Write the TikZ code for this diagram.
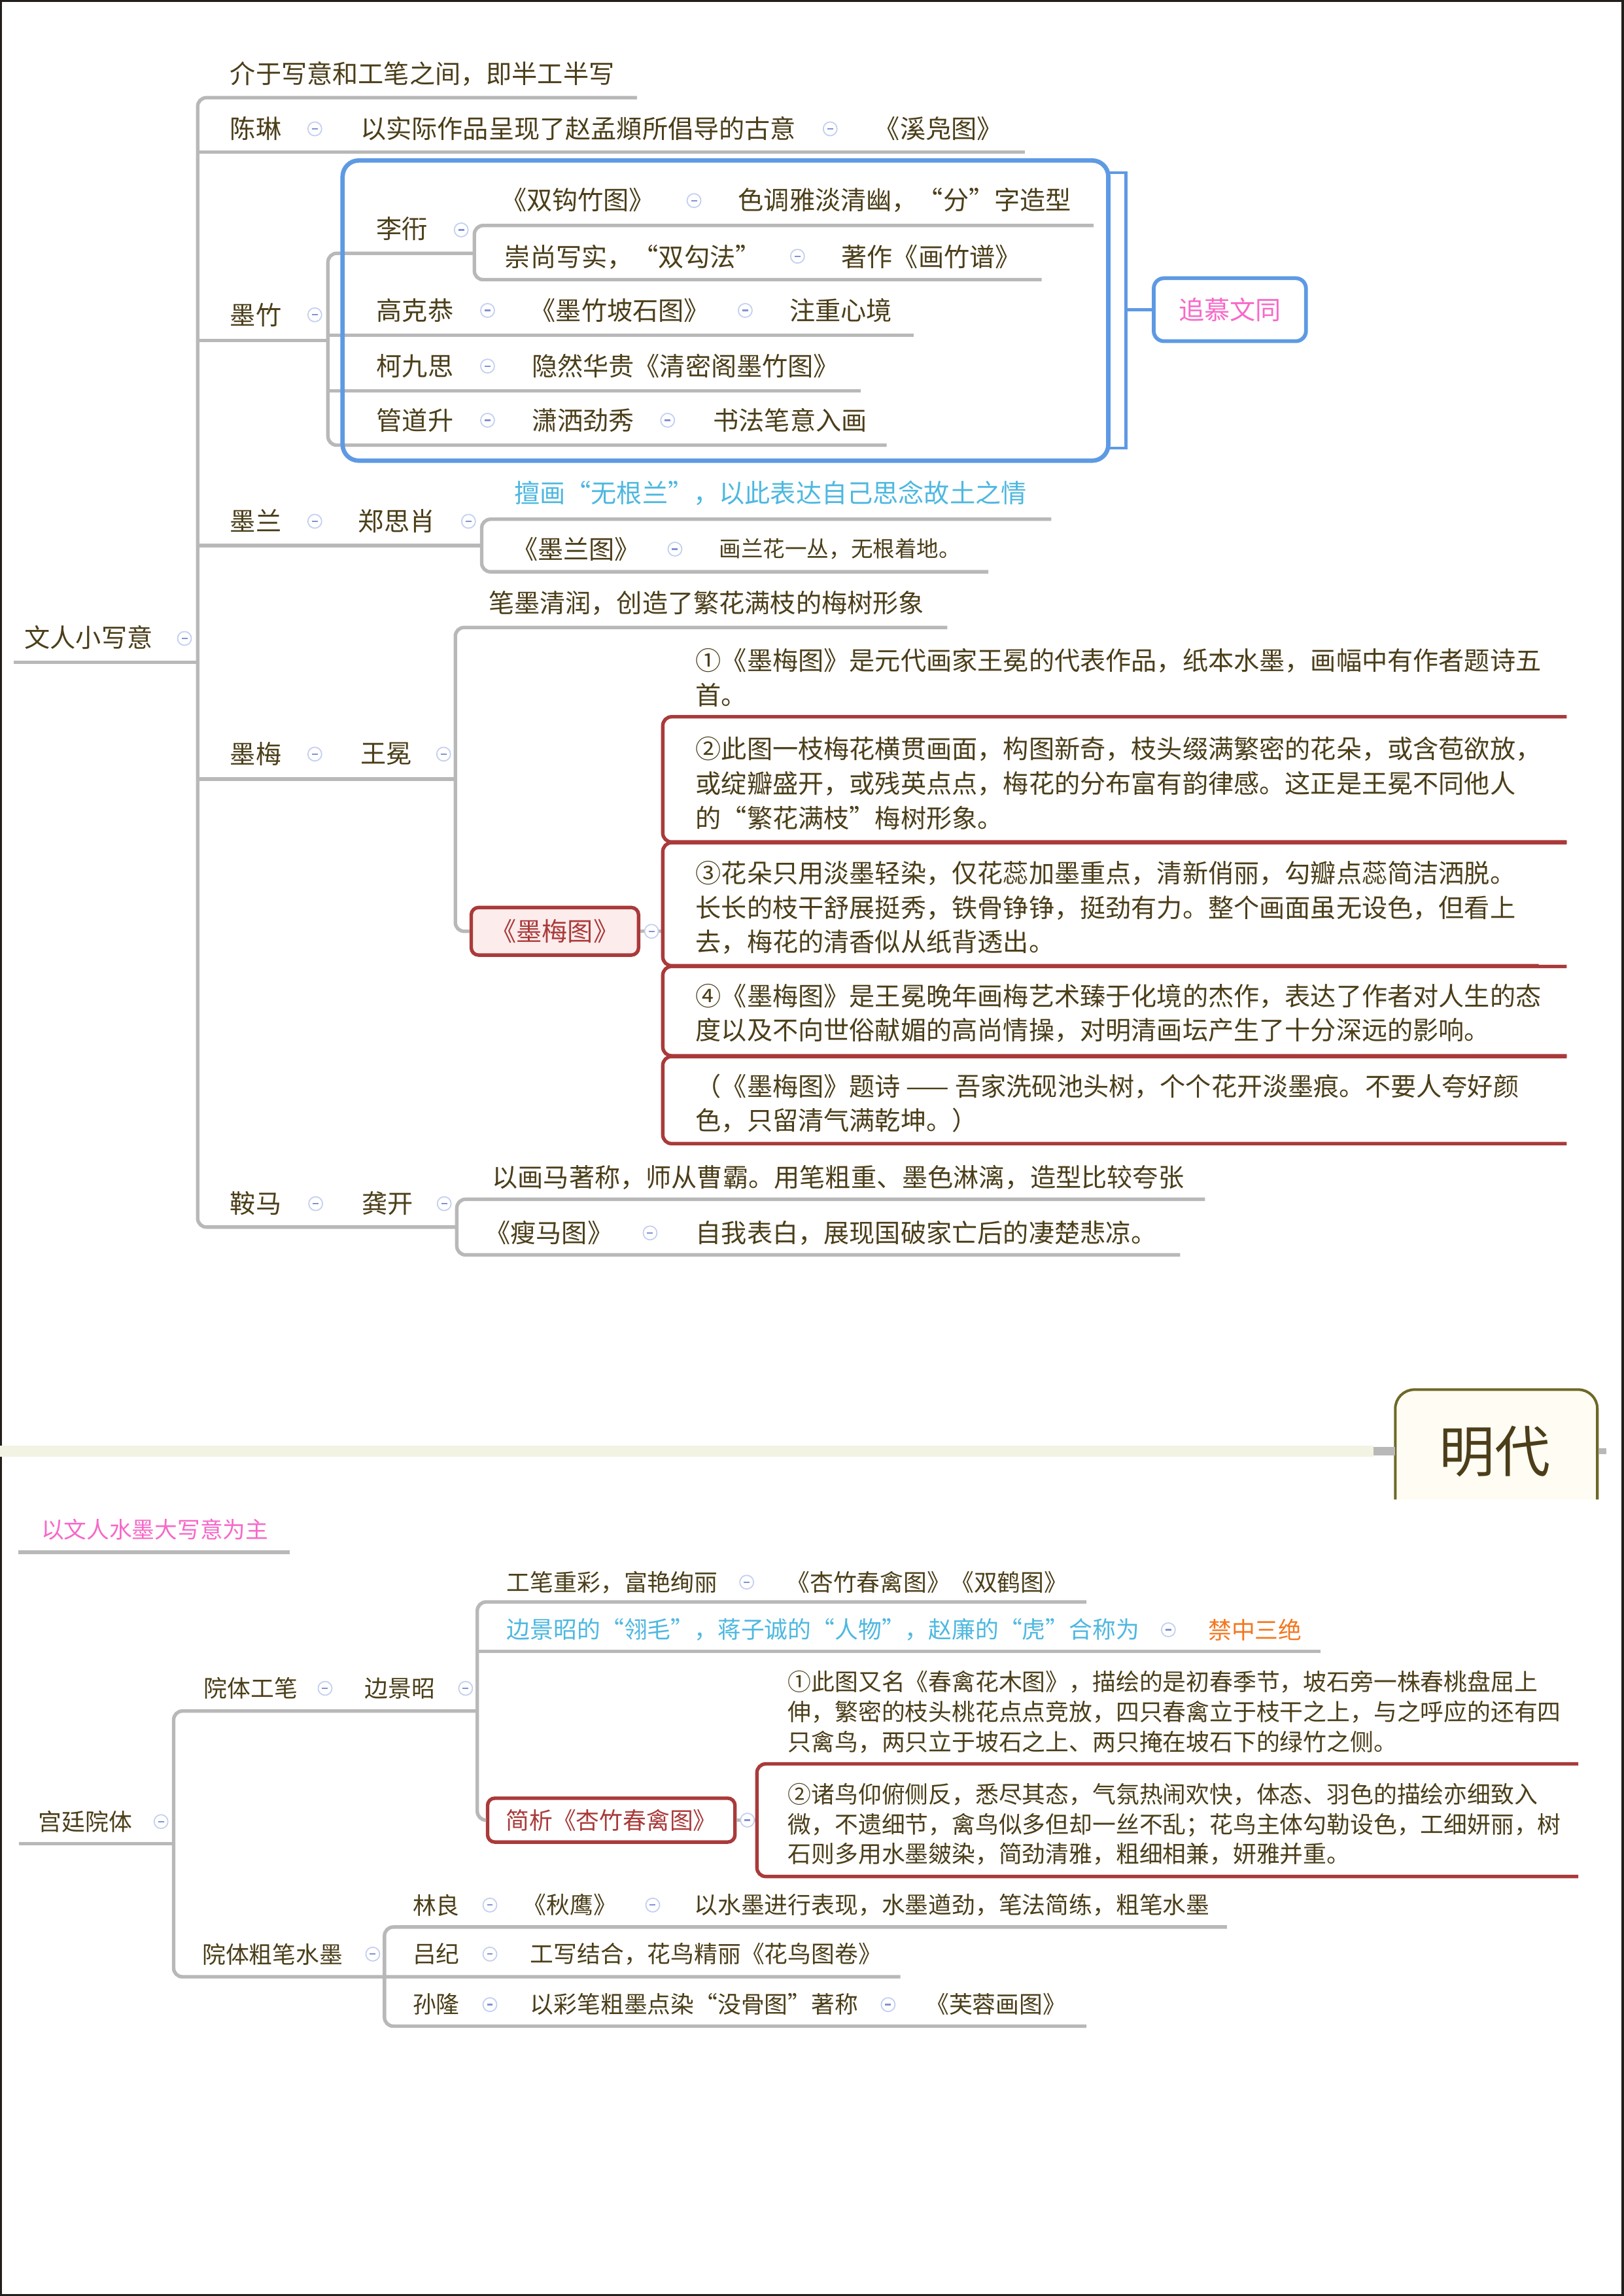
\documentclass[tikz,border=0pt]{standalone}
\usepackage{fontspec}
\setmainfont{Noto Sans CJK SC}
\usetikzlibrary{calc}

\definecolor{inkc}{RGB}{75,62,25}
\definecolor{linec}{RGB}{184,184,184}
\definecolor{bluec}{RGB}{94,154,228}
\definecolor{pinkc}{RGB}{248,104,200}
\definecolor{skyc}{RGB}{78,184,224}
\definecolor{orangec}{RGB}{244,118,30}
\definecolor{redc}{RGB}{170,58,58}
\definecolor{rosec}{RGB}{252,236,236}
\definecolor{foldc}{RGB}{196,208,240}
\definecolor{foldm}{RGB}{130,145,215}
\definecolor{bandc}{RGB}{243,243,227}
\definecolor{ivoryc}{RGB}{255,253,243}
\definecolor{olivec}{RGB}{110,104,40}
\definecolor{framec}{RGB}{35,31,28}

\tikzset{
  topic/.style={anchor=west, inner sep=0pt, text=inkc, align=left,
    font=\fontsize{17.5}{23.5}\selectfont},
  subtopic/.style={topic, font=\fontsize{16}{20.5}\selectfont},
  branch/.style={draw=linec, line width=2.4pt, rounded corners=6pt},
  redline/.style={draw=redc, line width=2.4pt, rounded corners=6pt},
  tag/.style={draw=redc, line width=2.4pt, rounded corners=5pt, text=redc, inner sep=0pt},
  fold/.style={circle, draw=foldc, fill=white, line width=0.8pt, minimum size=9.4pt, inner sep=0pt,
    path picture={\draw[foldm, line width=1pt] ([xshift=-2pt]path picture bounding box.center) -- ([xshift=2pt]path picture bounding box.center);}}
}

\begin{document}
\begin{tikzpicture}[x=1pt,y=-1pt]
    \useasboundingbox (0,0) rectangle (1109,1568);
    \fill[white] (0,0) rectangle (1109,1568);
    \draw[framec, line width=1.5pt] (0.75,0.75) rectangle (1108.25,1567.25);

    % 文人小写意
    \node[topic] (wr) at (16.6,435.4) {文人小写意};
    \node[topic] (jy) at (157,50.4) {介于写意和工笔之间，即半工半写};
    \node[topic] (cl) at (157,87.6) {陈琳};
    \node[topic] (cl2) at (246,88) {以实际作品呈现了赵孟頫所倡导的古意};
    \node[topic] (cl3) at (597,88) {《溪凫图》};
    \node[topic] (mz) at (157,215) {墨竹};
    \node[topic] (lx) at (257,156) {李衎};
    \node[topic] (sg) at (342,136.5) {《双钩竹图》};
    \node[topic] (sg2) at (504,136.5) {色调雅淡清幽，“分”字造型};
    \node[topic] (cs) at (344.6,175.4) {崇尚写实，“双勾法”};
    \node[topic] (cs2) at (574.5,175.4) {著作《画竹谱》};
    \node[topic] (gk) at (257,212) {高克恭};
    \node[topic] (gk2) at (362,212) {《墨竹坡石图》};
    \node[topic] (gk3) at (539,212) {注重心境};
    \node[topic] (kj) at (257,250) {柯九思};
    \node[topic] (kj2) at (363,250) {隐然华贵《清密阁墨竹图》};
    \node[topic] (gd) at (257,287) {管道升};
    \node[topic] (gd2) at (363,287) {潇洒劲秀};
    \node[topic] (gd3) at (487,287) {书法笔意入画};
    \node[topic] (ml) at (157,355.7) {墨兰};
    \node[topic] (zs) at (244.6,355.7) {郑思肖};
    \node[topic, text=skyc] (sh) at (351,336.7) {擅画“无根兰”，以此表达自己思念故土之情};
    \node[topic] (mt) at (349.6,375) {《墨兰图》};
    \node[topic, font=\fontsize{15}{18}\selectfont] (mt2) at (491,375) {画兰花一丛，无根着地。};
    \node[topic] (mm) at (157,515) {墨梅};
    \node[topic] (wm) at (246,515) {王冕};
    \node[topic] (bm) at (333.5,412) {笔墨清润，创造了繁花满枝的梅树形象};
    \node[tag, fill=rosec, minimum width=114.3pt, minimum height=32.5pt,
      font=\fontsize{17.5}{20}\selectfont] (mmt) at (379,636) {《墨梅图》};
    \node[topic] (p1) at (475,462.8) {①《墨梅图》是元代画家王冕的代表作品，纸本水墨，画幅中有作者题诗五\\首。};
    \node[topic] (p2) at (475,535) {②此图一枝梅花横贯画面，构图新奇，枝头缀满繁密的花朵，或含苞欲放，\\或绽瓣盛开，或残英点点，梅花的分布富有韵律感。这正是王冕不同他人\\的“繁花满枝”梅树形象。};
    \node[topic] (p3) at (475,620) {③花朵只用淡墨轻染，仅花蕊加墨重点，清新俏丽，勾瓣点蕊简洁洒脱。\\长长的枝干舒展挺秀，铁骨铮铮，挺劲有力。整个画面虽无设色，但看上\\去，梅花的清香似从纸背透出。};
    \node[topic] (p4) at (475,692) {④《墨梅图》是王冕晚年画梅艺术臻于化境的杰作，表达了作者对人生的态\\度以及不向世俗献媚的高尚情操，对明清画坛产生了十分深远的影响。};
    \node[topic] (p5) at (475,753.5) {（《墨梅图》题诗 —— 吾家洗砚池头树，个个花开淡墨痕。不要人夸好颜\\色，只留清气满乾坤。）};
    \node[topic] (am) at (157,822) {鞍马};
    \node[topic] (gkai) at (247,822) {龚开};
    \node[topic] (hm) at (336,804) {以画马著称，师从曹霸。用笔粗重、墨色淋漓，造型比较夸张};
    \node[topic] (sm) at (331,842) {《瘦马图》};
    \node[topic] (sm2) at (475,842) {自我表白，展现国破家亡后的凄楚悲凉。};

    \coordinate (wr-l) at (9.3,452.4);
    \coordinate (sp1) at (135,452.4);
    \coordinate (jy-e) at (435,66.7);
    \coordinate (cl-e) at (700,104);
    \coordinate (mz-e) at (224,232.5);
    \coordinate (lx-e) at (324,173);
    \coordinate (sg-e) at (747,154);
    \coordinate (cs-e) at (711.5,191);
    \coordinate (gk-e) at (624,229);
    \coordinate (kj-e) at (588,267);
    \coordinate (gd-e) at (605.6,304);
    \coordinate (ml-e) at (329,372.6);
    \coordinate (sh-e) at (718,354.6);
    \coordinate (mt-e) at (675,390.5);
    \coordinate (mm-e) at (311,532);
    \coordinate (bm-e) at (647,428.5);
    \coordinate (pb) at (452.7,636);
    \coordinate (am-e) at (312,838);
    \coordinate (hm-e) at (823,819);
    \coordinate (sm-e) at (806,857);

    \draw[branch] (wr-l) -- (sp1);
    \draw[branch] (jy-e) -- (sp1 |- jy-e) -- (sp1 |- am-e) -- (am-e);
    \draw[branch] (sp1 |- cl-e) -- (cl-e);
    \draw[branch] (sp1 |- mz-e) -- (mz-e);
    \draw[branch] (lx-e) -- (mz-e |- lx-e) -- (mz-e |- gd-e) -- (gd-e);
    \draw[branch] (sg-e) -- (lx-e |- sg-e) -- (lx-e |- cs-e) -- (cs-e);
    \draw[branch] (mz-e |- gk-e) -- (gk-e);
    \draw[branch] (mz-e |- kj-e) -- (kj-e);
    \draw[branch] (sp1 |- ml-e) -- (ml-e);
    \draw[branch] (sh-e) -- (ml-e |- sh-e) -- (ml-e |- mt-e) -- (mt-e);
    \draw[branch] (sp1 |- mm-e) -- (mm-e);
    \draw[branch] (bm-e) -- (mm-e |- bm-e) -- (mm-e |- mmt.west) -- (mmt.west);
    \draw[branch] (mmt.east) -- (pb);
    \draw[branch] (hm-e) -- (am-e |- hm-e) -- (am-e |- sm-e) -- (sm-e);

    % 墨梅图 boxes
    \draw[redline] (1070,489.5) -- (452.7,489.5) -- (452.7,575) -- (1070,575);
    \draw[redline] (1070,575.5) -- (452.7,575.5) -- (452.7,659.5) -- (1051,659.5);
    \draw[redline] (1070,660) -- (452.7,660) -- (452.7,721) -- (1070,721);
    \draw[redline] (1070,721.5) -- (452.7,721.5) -- (452.7,781) -- (1070,781);

    % 追慕文同
    \draw[bluec, line width=3pt, rounded corners=11pt] (234,109.6) rectangle (757,314.6);
    \node[draw=bluec, line width=2.6pt, rounded corners=7pt, minimum width=104pt, minimum height=43pt,
      text=pinkc, font=\fontsize{17.5}{20}\selectfont] (zm) at (840,211.5) {追慕文同};
    \coordinate (brk) at (769,211.5);
    \draw[bluec, line width=2pt] (757,118) -- (769,118) -- (769,306) -- (757,306);
    \draw[bluec, line width=2.6pt] (brk) -- (zm.west);

    % 明代
    \coordinate (band-l) at (0,991);
    \coordinate (band-r) at (938,991);
    \draw[bandc, line width=7.5pt] (band-l) -- (band-r);
    \path[draw=olivec, fill=ivoryc, line width=1.8pt, rounded corners=13pt]
      (953,1024) -- (953,949) -- (1091,949) -- (1091,1024);
    \node[text=inkc, font=\fontsize{38}{40}\selectfont] (ming) at (1021,991) {明代};
    \draw[linec, line width=6pt] (band-r) -- (band-r -| 953,0);
    \draw[linec, line width=4pt] (1092,991) -- (1097,991);

    % 宫廷院体
    \node[topic, text=pinkc, font=\fontsize{15.5}{18}\selectfont] (yw) at (28,1044.7) {以文人水墨大写意为主};
    \node[subtopic] (gt) at (26,1243.8) {宫廷院体};
    \node[subtopic] (ytg) at (139,1153) {院体工笔};
    \node[subtopic] (bjz) at (249,1153) {边景昭};
    \node[subtopic] (gb) at (346,1080.5) {工笔重彩，富艳绚丽};
    \node[subtopic] (gb2) at (537,1080.5) {《杏竹春禽图》《双鹤图》};
    \node[subtopic, text=skyc] (lm) at (346,1113) {边景昭的“翎毛”，蒋子诚的“人物”，赵廉的“虎”合称为};
    \node[subtopic, text=orangec] (jz) at (825,1113) {禁中三绝};
    \node[tag, minimum width=169pt, minimum height=30pt, fill=white,
      font=\fontsize{16}{18}\selectfont] (jx) at (417.5,1243) {简析《杏竹春禽图》};
    \node[subtopic] (q1) at (538,1169) {①此图又名《春禽花木图》，描绘的是初春季节，坡石旁一株春桃盘屈上\\伸，繁密的枝头桃花点点竞放，四只春禽立于枝干之上，与之呼应的还有四\\只禽鸟，两只立于坡石之上、两只掩在坡石下的绿竹之侧。};
    \node[subtopic] (q2) at (538,1245.8) {②诸鸟仰俯侧反，悉尽其态，气氛热闹欢快，体态、羽色的描绘亦细致入\\微，不遗细节，禽鸟似多但却一丝不乱；花鸟主体勾勒设色，工细妍丽，树\\石则多用水墨皴染，简劲清雅，粗细相兼，妍雅并重。};
    \node[subtopic] (ytc) at (138,1334.5) {院体粗笔水墨};
    \node[subtopic] (ll) at (281.7,1301) {林良};
    \node[subtopic] (ll2) at (357,1301) {《秋鹰》};
    \node[subtopic] (ll3) at (474,1301) {以水墨进行表现，水墨遒劲，笔法简练，粗笔水墨};
    \node[subtopic] (lj) at (281.7,1334.5) {吕纪};
    \node[subtopic] (lj2) at (362,1334.5) {工写结合，花鸟精丽《花鸟图卷》};
    \node[subtopic] (sl) at (281.7,1368.7) {孙隆};
    \node[subtopic] (sl2) at (362,1368.7) {以彩笔粗墨点染“没骨图”著称};
    \node[subtopic] (sl3) at (632,1368.7) {《芙蓉画图》};

    \coordinate (yw-l) at (12.7,1060);
    \coordinate (yw-r) at (198,1060);
    \coordinate (gt-l) at (13,1259);
    \coordinate (sp2) at (118.6,1259);
    \coordinate (bjz-e) at (326,1168.5);
    \coordinate (gb-e) at (742,1094);
    \coordinate (lm-e) at (902,1127.7);
    \coordinate (qb) at (517,1243);
    \coordinate (ll-e) at (838,1316);
    \coordinate (lj-e) at (615,1350);
    \coordinate (sl-e) at (742,1383.7);
    \coordinate (sp3) at (262.6,1350);

    \draw[branch] (yw-l) -- (yw-r);
    \draw[branch] (gt-l) -- (sp2);
    \draw[branch] (bjz-e) -- (sp2 |- bjz-e) -- (sp2 |- lj-e) -- (lj-e);
    \draw[branch] (gb-e) -- (bjz-e |- gb-e) -- (bjz-e |- jx.west) -- (jx.west);
    \draw[branch] (bjz-e |- lm-e) -- (lm-e);
    \draw[branch] (jx.east) -- (qb);
    \draw[branch] (ll-e) -- (sp3 |- ll-e) -- (sp3 |- sl-e) -- (sl-e);
    \draw[redline] (1078,1204.6) -- (517,1204.6) -- (517,1281.5) -- (1078,1281.5);

    \foreach \fx/\fy [count=\i] in {126/436, 215/88, 567/88, 215/215, 315/157, 474/137, 544.7/175,
        333/212, 509/212, 333/250, 333/287, 456/287, 215/356, 320/356, 461/375, 215/515, 303/515,
        445/636, 215.6/822, 303.4/822, 444/842, 110/1244, 222/1153, 318/1153, 510/1080.5, 798/1113,
        510.5/1243, 254.6/1334.5, 334.6/1301, 445.8/1301, 334.6/1334.5, 334.6/1369, 606.6/1369}
      \node[fold] (fold\i) at (\fx,\fy) {};
\end{tikzpicture}
\end{document}
